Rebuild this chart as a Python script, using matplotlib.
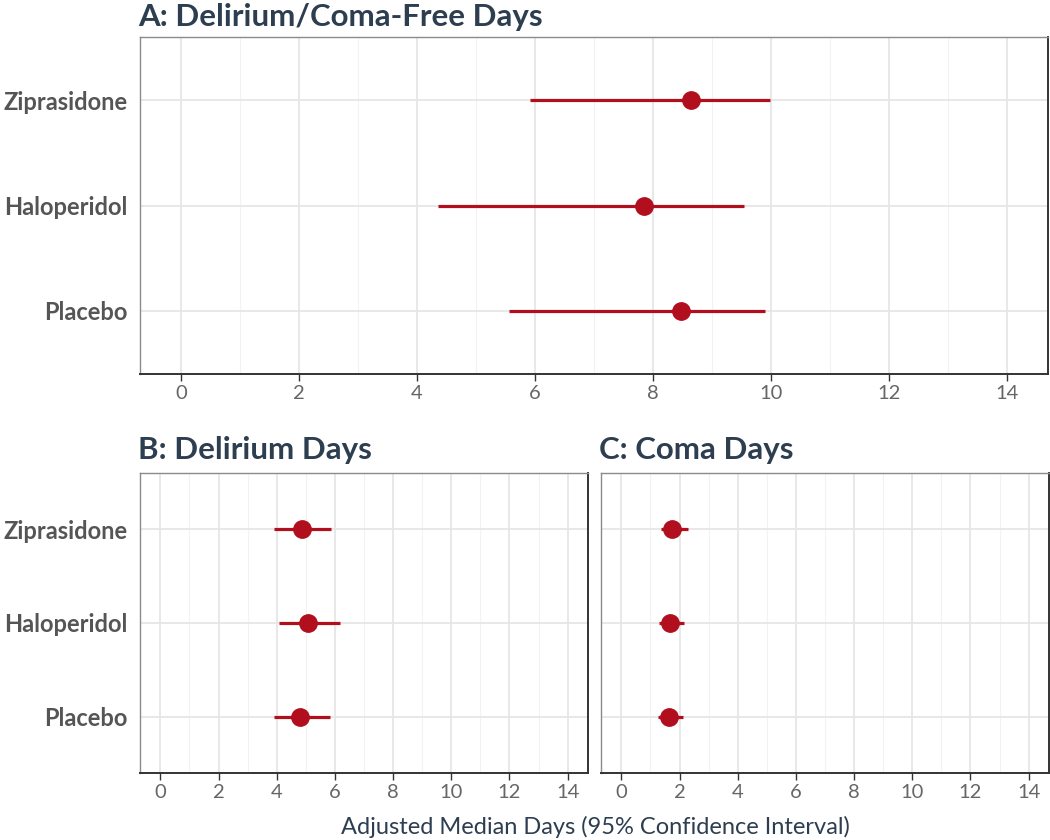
import numpy as np
import matplotlib
matplotlib.use("Agg")
import matplotlib.pyplot as plt

plt.rcParams["font.family"] = ["Lato", "DejaVu Sans"]

# Data
drugs = ["Ziprasidone", "Haloperidol", "Placebo"]

free_med = [8.65, 7.84, 8.47]
free_lo = [5.91, 4.36, 5.55]
free_hi = [9.99, 9.55, 9.90]

delir_med = [4.87, 5.09, 4.81]
delir_lo = [3.92, 4.07, 3.90]
delir_hi = [5.88, 6.16, 5.84]

coma_med = [1.75, 1.66, 1.65]
coma_lo = [1.36, 1.29, 1.27]
coma_hi = [2.29, 2.15, 2.12]

titles = ["A: Delirium/Coma-Free Days", "B: Delirium Days", "C: Coma Days"]

RED = "#B10E1E"
TITLE_C = "#2C3E50"
W, H = 1050, 840


def px_axes(fig, l, t, r, b):
    return fig.add_axes([l / W, (H - b) / H, (r - l) / W, (b - t) / H])


def forest(ax, med, lo, hi, show_y=True):
    ypos = np.arange(len(drugs), 0, -1)
    ax.hlines(ypos, lo, hi, color=RED, lw=2.3, zorder=3)
    ax.plot(med, ypos, "o", color=RED, ms=12.5, zorder=4)
    ax.set_xlim(-0.7, 14.7)
    ax.set_ylim(0.4, 3.6)
    ax.set_xticks(np.arange(0, 15, 2))
    ax.set_xticks(np.arange(1, 15, 2), minor=True)
    ax.set_yticks(ypos)
    ax.grid(which="major", color="#E6E6E6", lw=1.3, zorder=0)
    ax.grid(which="minor", axis="x", color="#F2F2F2", lw=0.8, zorder=0)
    ax.tick_params(axis="x", which="major", length=5, width=1, color="#333333",
                   labelsize=14.5, labelcolor="#666666", pad=3)
    ax.tick_params(axis="x", which="minor", length=0)
    ax.tick_params(axis="y", length=0, pad=9)
    if show_y:
        ax.set_yticklabels(drugs, fontsize=17, fontweight="bold", color="#555555")
    else:
        ax.set_yticklabels([])
    for side in ["left", "top"]:
        ax.spines[side].set_color("#8A8A8A")
        ax.spines[side].set_linewidth(1.0)
    for side in ["right", "bottom"]:
        ax.spines[side].set_color("#333333")
        ax.spines[side].set_linewidth(1.4)


fig = plt.figure(figsize=(10.5, 8.4), dpi=100)

axA = px_axes(fig, 140, 37, 1048, 374)
axB = px_axes(fig, 140, 473, 588, 773)
axC = px_axes(fig, 601, 473, 1049, 773)

forest(axA, free_med, free_lo, free_hi)
forest(axB, delir_med, delir_lo, delir_hi)
forest(axC, coma_med, coma_lo, coma_hi, show_y=False)

for ax, title, (x, y) in zip([axA, axB, axC], titles, [(138, 26), (138, 459), (599, 459)]):
    fig.text(x / W, 1 - y / H, title, fontsize=22.5, fontweight="bold",
             color=TITLE_C, ha="left", va="baseline")

fig.text(595 / W, 1 - 827 / H, "Adjusted Median Days (95% Confidence Interval)",
         fontsize=17, color=TITLE_C, ha="center", va="center")

fig.savefig("out.png", dpi=100)
